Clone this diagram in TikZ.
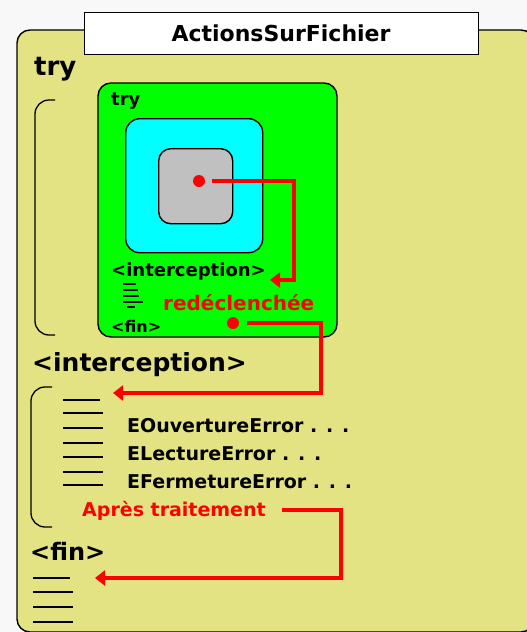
\documentclass[tikz,border=0pt]{standalone}
\usepackage{fontspec}
\setmainfont{DejaVu Sans}
\usetikzlibrary{arrows.meta}
\definecolor{bgc}{HTML}{F8F8F8}
\definecolor{khaki}{HTML}{E3E384}
\definecolor{vert}{HTML}{00FF00}
\definecolor{cyanc}{HTML}{00FFFF}
\definecolor{grisc}{HTML}{C0C0C0}
\definecolor{rouge}{HTML}{FF0000}
\newcommand{\fsz}[1]{\fontsize{#1}{#1}\selectfont}
\tikzset{
  box/.style={draw=black, line width=1.4pt, rounded corners=#1},
  txt/.style={inner sep=0pt, anchor=base west, font=\bfseries\fsz{19}},
  bigtxt/.style={inner sep=0pt, anchor=base west, font=\fsz{25}},
  smalltxt/.style={inner sep=0pt, anchor=base west, font=\bfseries\fsz{18}},
  redtxt/.style={txt, text=rouge},
  reddot/.style={circle, fill=rouge, inner sep=0pt, minimum size=12pt},
  redline/.style={draw=rouge, line width=3.8pt, -{Triangle[length=10pt,width=15pt]}},
  dash line/.style={black, line width=1.7pt},
  brace/.style={black, line width=1.3pt, rounded corners=14pt},
}
\begin{document}
\begin{tikzpicture}[x=1pt, y=-1pt]
\useasboundingbox (0,0) rectangle (527,632);
\fill[bgc] (0,0) rectangle (527,632);
\begin{scope}
\clip (0,0) rectangle (527,632);
\draw[box=13pt, fill=khaki] (17,30) rectangle (534,632);
\end{scope}
% title
\node[draw=black, line width=1.4pt, fill=white, minimum width=394pt, minimum height=42pt, inner sep=0pt, anchor=north west] (title) at (84,12) {};
\node[inner sep=0pt, anchor=base, font=\bfseries\fsz{22}] (titletxt) at (281,41) {ActionsSurFichier};
% big try
\node[bigtxt, font=\bfseries\fsz{26}] (try) at (34,75) {try};
% bracket try
\draw[brace] (55,100) -- (35,100) -- (35,335) -- (55,335);
% green block
\draw[box=13pt, fill=vert] (98,83) rectangle (337,337);
\node[box=14pt, fill=cyanc, minimum width=137pt, minimum height=134pt, inner sep=0pt, anchor=north west] (cyanbox) at (125,118) {};
\node[box=12pt, fill=grisc, minimum width=74pt, minimum height=75pt, inner sep=0pt, anchor=north west] (graybox) at (158,148) {};
\node[smalltxt] (trys) at (111,105) {try};
\node[smalltxt] (intercs) at (111,276) {<interception>};
\node[smalltxt, font=\bfseries\fsz{16}] (fins) at (111,332) {<fin>};
\node[redtxt, font=\bfseries\fsz{20}] (redecl) at (163,310) {redéclenchée};
\foreach \y/\a/\b in {284/123/136, 290/123/138, 296/123/139, 302/123/143, 307/127/135}
  \draw[black, line width=1.5pt] (\a,\y) -- (\b,\y);
\node[reddot] (d1) at (199,181) {};
\node[reddot] (d2) at (233,323) {};
\coordinate (k1) at (294,280);
\coordinate (t1) at (270,280);
\draw[redline] ([xshift=13pt]d1.center) -| (k1) -- (t1);
\coordinate (k2) at (321,393);
\coordinate (t2) at (113,393);
\draw[redline] ([xshift=14pt]d2.center) -| (k2) -- (t2);
% interception section
\node[bigtxt, font=\bfseries\fsz{25}] (interc) at (32,371) {<interception>};
\draw[brace] (52,387) -- (31,387) -- (31,527) -- (52,527);
\foreach \y/\b in {400/100, 413/103, 428/103, 443/103, 457/103, 472/103, 485/103}
  \draw[dash line] (63,\y) -- (\b,\y);
\node[txt] (e1) at (127,432) {EOuvertureError . . .};
\node[txt] (e2) at (127,460) {ELectureError . . .};
\node[txt] (e3) at (127,488) {EFermetureError . . .};
\node[redtxt] (apres) at (82,516) {Après traitement};
\coordinate (s3) at (282,510);
\coordinate (k3) at (341,578);
\coordinate (t3) at (95,578);
\draw[redline] (s3) -| (k3) -- (t3);
% fin section
\node[bigtxt, font=\bfseries\fsz{24}] (fin) at (30,560) {<fin>};
\foreach \y/\b in {578/70, 592/73, 607/73, 622/73}
  \draw[dash line] (33,\y) -- (\b,\y);
\end{tikzpicture}
\end{document}
